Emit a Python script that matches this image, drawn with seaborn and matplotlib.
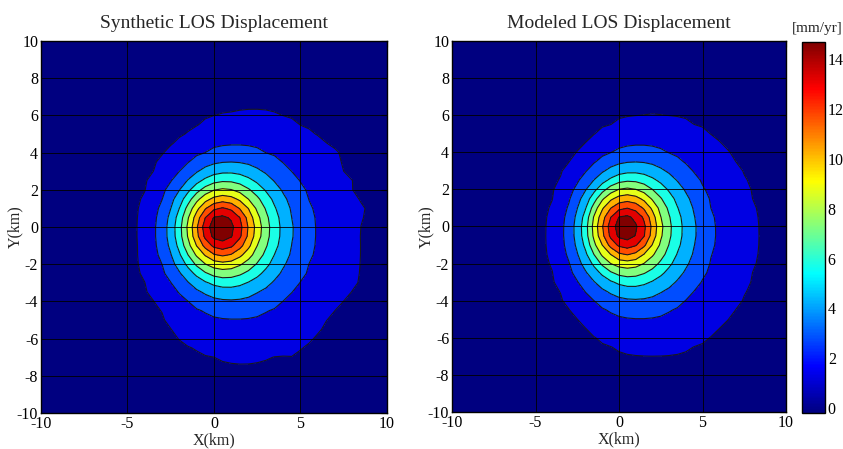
import numpy as np
import matplotlib
matplotlib.use("Agg")
import matplotlib.pyplot as plt
import matplotlib as mpl
from matplotlib.colors import LinearSegmentedColormap, Normalize
import seaborn as sns

# contour levels [mm/yr] and peak value
levels = [1.34, 2.67, 4.01, 5.35, 6.68, 8.02, 9.35, 10.69, 12.03, 13.36]
peak = 14.7
cbar_ticks = [0, 2, 4, 6, 8, 10, 12, 14]

# centre of the uplift (km)
x0, y0 = 0.38, -0.12

# modeled rings, outer -> inner: extents in km
mod_left = [-4.24, -3.25, -2.69, -2.20, -1.89, -1.61, -1.29, -0.98, -0.68, -0.30]
mod_right = [8.29, 5.68, 4.60, 3.75, 3.12, 2.59, 2.26, 1.92, 1.62, 1.10]
mod_bottom = [-6.98, -4.95, -3.90, -3.20, -2.70, -2.25, -1.80, -1.53, -1.17, -0.81]
mod_top = [6.03, 4.32, 3.47, 2.88, 2.43, 2.07, 1.71, 1.35, 0.99, 0.67]

# synthetic rings 2..10 (the outer one is irregular, see polygon below)
syn_left = [-3.33, -2.69, -2.23, -1.88, -1.56, -1.27, -0.96, -0.67, -0.35]
syn_right = [5.80, 4.56, 3.79, 3.21, 2.69, 2.38, 1.96, 1.67, 1.19]
syn_bottom = [-4.91, -3.89, -3.21, -2.72, -2.28, -1.86, -1.56, -1.20, -0.84]
syn_top = [4.35, 3.49, 2.89, 2.44, 2.06, 1.67, 1.36, 1.04, 0.68]

syn_outer_x = [-0.06, 1.1, 3.0, 4.0, 4.9, 5.9, 7.25, 7.25, 8.0, 8.0, 8.65, 8.4,
               8.2, 7.63, 6.67, 5.8, 4.46, 3.79, 2.44, 1.77, -0.44, -1.0, -2.0,
               -2.94, -3.9, -4.29, -4.29, -3.9, -2.94, -2.17, -0.83]
syn_outer_y = [5.97, 6.09, 6.18, 5.97, 5.5, 4.9, 3.9, 3.19, 2.56, 1.76, 1.13, -0.3,
               -3.08, -3.8, -4.78, -5.86, -6.94, -6.85, -7.2, -7.29, -6.85, -6.58,
               -6.04, -4.6, -3.17, -1.02, 0.59, 2.03, 3.82, 4.53, 5.43]

# matlab style jet
jet_m = LinearSegmentedColormap("jet_m", {
    "red": [(0, 0, 0), (0.375, 0, 0), (0.625, 1, 1), (0.875, 1, 1), (1, 0.5, 0.5)],
    "green": [(0, 0, 0), (0.125, 0, 0), (0.375, 1, 1), (0.625, 1, 1), (0.875, 0, 0), (1, 0, 0)],
    "blue": [(0, 0.5, 0.5), (0.125, 1, 1), (0.375, 1, 1), (0.625, 0, 0), (1, 0, 0)],
}, N=256)
band_colors = [jet_m(v) for v in np.linspace(0, 1, len(levels) + 1)]

# coarse grid like the original data
gx = np.arange(-10, 10.01, 0.5)
X, Y = np.meshgrid(gx, gx)
R = np.hypot(X - x0, Y - y0)
TH = np.arctan2(Y - y0, X - x0)


def ellipse_radius(l, r, b, t):
    cx, cy = (l + r) / 2, (b + t) / 2
    ax_, ay_ = (r - l) / 2, (t - b) / 2
    dx, dy = x0 - cx, y0 - cy
    c, s = np.cos(TH), np.sin(TH)
    A = (c / ax_) ** 2 + (s / ay_) ** 2
    B = 2 * (dx * c / ax_ ** 2 + dy * s / ay_ ** 2)
    C = (dx / ax_) ** 2 + (dy / ay_) ** 2 - 1
    return (-B + np.sqrt(B * B - 4 * A * C)) / (2 * A)


def polygon_radius(px, py):
    px, py = np.asarray(px), np.asarray(py)
    ang = np.arctan2(py - y0, px - x0)
    rad = np.hypot(px - x0, py - y0)
    order = np.argsort(ang)
    return np.interp(TH, ang[order], rad[order], period=2 * np.pi)


def build_field(rings):
    rr = [rings[0] * 1.8] + rings + [np.zeros_like(R)]
    vals = [0.0] + levels + [peak]
    z = np.zeros_like(R)
    last = len(rr) - 2
    for k in range(len(rr) - 1):
        mask = (R <= rr[k]) & ((R > rr[k + 1]) | (k == last))
        frac = (rr[k] - R) / (rr[k] - rr[k + 1])
        z = np.where(mask, vals[k] + frac * (vals[k + 1] - vals[k]), z)
    return z


mod_rings = [ellipse_radius(*e) for e in zip(mod_left, mod_right, mod_bottom, mod_top)]
syn_rings = [polygon_radius(syn_outer_x, syn_outer_y)] + \
    [ellipse_radius(*e) for e in zip(syn_left, syn_right, syn_bottom, syn_top)]
Z_syn = build_field(syn_rings)
Z_mod = build_field(mod_rings)

sns.set_theme(style="white")
plt.rcParams["font.family"] = ["Liberation Serif", "DejaVu Serif"]
plt.rcParams["axes.edgecolor"] = "black"
plt.rcParams["axes.unicode_minus"] = False

fig = plt.figure(figsize=(8.43, 4.49), dpi=100)
ax1 = fig.add_axes([0.0486, 0.0802, 0.4104, 0.8285])
ax2 = fig.add_axes([0.5362, 0.0824, 0.3962, 0.8263])
cax = fig.add_axes([0.9514, 0.0802, 0.0273, 0.8263])

fill_levels = [-1.0] + levels + [peak + 1]
for ax, Z, title, ylx in [(ax1, Z_syn, "Synthetic LOS Displacement", -0.052),
                          (ax2, Z_mod, "Modeled LOS Displacement", -0.054)]:
    ax.contourf(X, Y, Z, levels=fill_levels, colors=band_colors)
    ax.contour(X, Y, Z, levels=levels, colors="k", linewidths=0.8)
    ax.set_xlim(-10, 10)
    ax.set_ylim(-10, 10)
    ax.set_xticks([-10, -5, 0, 5, 10])
    ax.set_yticks(np.arange(-10, 11, 2))
    ax.set_axisbelow(False)
    ax.grid(True, color="black", linewidth=0.6)
    ax.tick_params(direction="in", top=True, right=True, length=4, width=0.8,
                   labelsize=11.5, pad=2, colors="black")
    for sp in ax.spines.values():
        sp.set_linewidth(1.0)
        sp.set_color("black")
    ax.set_title(title, fontsize=14, pad=9)
    ax.set_xlabel("X(km)", fontsize=11.5)
    ax.set_ylabel("Y(km)", fontsize=11.5)
    ax.xaxis.set_label_coords(0.5, -0.052)
    ax.yaxis.set_label_coords(ylx, 0.5)

cb = fig.colorbar(mpl.cm.ScalarMappable(norm=Normalize(-0.2, peak), cmap=jet_m), cax=cax)
cb.set_ticks(cbar_ticks)
cb.outline.set_edgecolor("black")
cb.outline.set_linewidth(1.0)
cax.tick_params(direction="in", left=True, right=True, length=4, width=0.8,
                labelsize=11.5, pad=2, colors="black")
fig.text(0.969, 0.936, "[mm/yr]", ha="center", va="center", fontsize=11)

fig.savefig("out.png", dpi=100)
